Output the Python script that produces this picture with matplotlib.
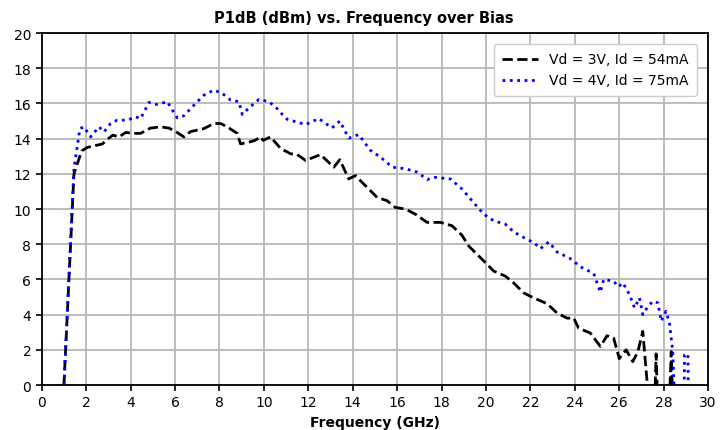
import numpy as np
import matplotlib
matplotlib.use('Agg')
import matplotlib.pyplot as plt

# Vd = 3V, Id = 54mA
freq_3v = [1.0, 1.45, 1.8, 2.05, 2.4, 2.73, 3.0, 3.2, 3.48, 3.78, 4.15, 4.45, 4.9, 5.35,
           5.73, 6.03, 6.4, 6.7, 7.3, 7.75, 8.05, 8.35, 8.8, 8.95, 9.33, 9.6, 9.85, 9.97,
           10.3, 10.75, 11.2, 11.5, 11.88, 12.55, 13.15, 13.42, 13.82, 14.12, 14.72, 15.1,
           15.55, 15.92, 16.37, 16.82, 17.35, 17.95, 18.47, 18.92, 19.22, 19.9, 20.35,
           20.87, 21.25, 21.7, 22.15, 22.75, 23.2, 23.65, 23.95, 24.17, 24.7, 25.15, 25.45,
           25.75, 26.0, 26.31, 26.61, 26.84, 27.06, 27.4, 27.55, 27.66, 27.78, 28.2, 28.34,
           28.45, 28.6]
p1db_3v = [0.0, 12.0, 13.3, 13.5, 13.6, 13.7, 14.0, 14.2, 14.1, 14.35, 14.3, 14.3, 14.6, 14.67,
           14.6, 14.4, 14.1, 14.4, 14.57, 14.86, 14.86, 14.67, 14.3, 13.7, 13.8, 13.9, 14.1, 13.9,
           14.1, 13.45, 13.14, 13.1, 12.76, 13.09, 12.38, 12.8, 11.71, 11.9, 11.14, 10.66,
           10.47, 10.09, 10.0, 9.71, 9.24, 9.24, 9.05, 8.51, 7.9, 7.05, 6.47,
           6.19, 5.8, 5.23, 4.95, 4.62, 4.09, 3.8, 3.8, 3.23, 2.95, 2.19, 2.8,
           2.66, 1.5, 2.0, 1.33, 1.9, 3.05, -2.0, -3.0, 1.77, -3.0, -3.0, 1.9,
           -3.0, -5.0]

# Vd = 4V, Id = 75mA
freq_4v = [1.0, 1.45, 1.72, 1.9, 2.2, 2.58, 2.8, 3.1, 3.4, 3.85, 4.23, 4.45, 4.83, 5.2, 5.65,
           6.1, 6.4, 6.85, 7.3, 7.75, 8.13, 8.5, 8.88, 9.03, 9.33, 9.78, 10.23, 10.68, 10.83,
           11.05, 11.35, 11.88, 12.47, 13.07, 13.42, 13.82, 14.27, 14.8, 15.25, 15.78, 16.37,
           16.9, 17.35, 17.72, 18.4, 18.92, 19.37, 19.9, 20.35, 20.87, 21.25, 21.7, 22.15,
           22.45, 22.83, 23.2, 23.8, 24.25, 24.85, 25.15, 25.3, 25.75, 25.97, 26.16, 26.46,
           26.69, 26.91, 27.06, 27.2, 27.5, 27.74, 27.89, 28.1, 28.26, 28.41, 28.55, 28.85,
           28.94, 29.09, 29.18]
p1db_4v = [0.0, 12.3, 14.57, 14.67, 14.1, 14.67, 14.38, 14.86, 15.05, 15.05, 15.24, 15.14, 16.06,
           15.94, 16.1, 15.18, 15.3, 15.9, 16.47, 16.76, 16.57, 16.19, 16.1, 15.37, 15.75, 16.23,
           16.1, 15.62, 15.37, 15.1, 14.99, 14.8, 15.14, 14.61, 15.0, 14.03, 14.23, 13.33, 12.95,
           12.38, 12.29, 12.1, 11.68, 11.8, 11.71, 11.14, 10.47, 9.71, 9.33, 9.14, 8.7, 8.38,
           8.09, 7.75, 8.13, 7.56, 7.18, 6.72, 6.34, 5.27, 6.0, 5.9, 5.58, 5.81, 5.14, 4.38,
           4.95, 4.0, 4.28, 4.76, 4.67, 3.62, 4.19, 3.52, 1.9, -3.0, -8.0, 1.71, 1.77, -8.0]

fig = plt.figure(figsize=(7.27, 4.31), dpi=100)
ax = fig.add_axes([0.0574, 0.1044, 0.9166, 0.8166])

ax.plot(freq_3v, p1db_3v, color='black', linestyle='--', linewidth=2,
        label='Vd = 3V, Id = 54mA')
ax.plot(freq_4v, p1db_4v, color='blue', linestyle=':', linewidth=2,
        label='Vd = 4V, Id = 75mA')

ax.set_xlim(0, 30)
ax.set_ylim(0, 20)
ax.set_xticks(np.arange(0, 31, 2))
ax.set_yticks(np.arange(0, 21, 2))
ax.grid(True, color='#b8b8b8', linewidth=1.3)
ax.set_axisbelow(True)
for s in ax.spines.values():
    s.set_color('black')
    s.set_linewidth(1.3)
ax.tick_params(labelsize=10, length=4, width=1.2)

# titulo centrado en la figura, no en los ejes
fig.text(0.5, 0.958, 'P1dB (dBm) vs. Frequency over Bias', fontsize=10.5,
         fontweight='bold', ha='center', va='center')
ax.set_xlabel('Frequency (GHz)', fontsize=10, fontweight='bold', labelpad=4)

ax.legend(loc='upper right', fontsize=10, framealpha=1, edgecolor='#cccccc',
          handlelength=2.6, borderpad=0.6, borderaxespad=0.8)

fig.savefig('out.png', dpi=100)
